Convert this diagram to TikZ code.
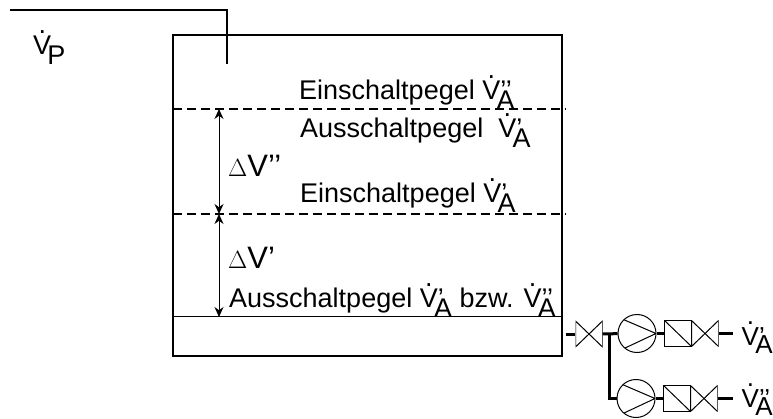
\documentclass[tikz,border=0pt]{standalone}
\usepackage{fontspec}
\setmainfont{Liberation Sans}
\usetikzlibrary{arrows.meta}
\newcommand{\Vdot}{\leavevmode\rlap{\kern.2em\raisebox{.78em}{.}}V}
\newcommand{\Vflow}[2]{\Vdot\rlap{\kern.0em\raisebox{.0em}{#2}}\kern-.14em\raisebox{-.34em}{#1}}

\begin{document}
\begin{tikzpicture}[
    x=1pt, y=-1pt,
    font=\fontsize{27}{29}\selectfont,
    >={Stealth[length=10pt,width=9pt]},
    % Styles
    tank/.style={% For the basin
        rectangle,
        draw,
        line width=2pt,
        minimum width=389pt,
        minimum height=321pt,
        inner sep=0pt,
        },
    valve/.style={% Two triangles tip to tip
        rectangle,
        minimum width=27pt,
        minimum height=26pt,
        inner sep=0pt,
        path picture={
            \draw[line width=1pt] (path picture bounding box.north west) -- (path picture bounding box.south east)
                -- (path picture bounding box.north east) -- (path picture bounding box.south west) -- cycle;
            },
        },
    pump/.style={% Circle with the wedge
        circle,
        draw,
        line width=1pt,
        minimum size=38pt,
        inner sep=0pt,
        path picture={
            \draw[line width=1pt] (path picture bounding box.center)++(-16,-15) -- (path picture bounding box.east)
                -- ++(-32,15);
            },
        },
    filterbox/.style={% Square with the diagonal
        rectangle,
        draw,
        line width=1pt,
        minimum width=27pt,
        minimum height=26pt,
        inner sep=0pt,
        path picture={
            \draw[line width=1pt] (path picture bounding box.north west) -- (path picture bounding box.south east);
            },
        },
    pipe/.style={line width=3pt},
    level/.style={line width=1.5pt, dash pattern=on 9pt off 5pt},
    measure/.style={<->, line width=1pt},
    mylabel/.style={anchor=base west, inner sep=0pt},
    sidelabel/.style={anchor=base west, inner sep=0pt, font=\fontsize{26}{28}\selectfont},
    biglabel/.style={anchor=base west, inner sep=0pt, font=\fontsize{31}{33}\selectfont},
    ]
    \useasboundingbox (0,0) rectangle (773,419);

    % Draw the basin
    \node[tank] (basin) at (367.5,195.5) {};

    % Levels, named as basis e,a
    \coordinate (e2) at (173,109);
    \coordinate (e2r) at (566,109);
    \coordinate (e1) at (173,214);
    \coordinate (e1r) at (566,214);
    \coordinate (a0) at (173,317);
    \coordinate (a0r) at (562,317);
    \draw[level] (e2) -- (e2r);
    \draw[level] (e1) -- (e1r);
    \draw[line width=1pt] (a0) -- (a0r);

    % Inlet
    \coordinate (in0) at (10,10);
    \coordinate (in1) at (227,10);
    \coordinate (in2) at (227,64);
    \draw[line width=2.5pt] (in0) -- (in1) -- (in2);

    % Draw the measures
    \coordinate (m2) at (219,109);
    \coordinate (m1) at (219,214);
    \coordinate (m0) at (219,317);
    \draw[measure] (m2) -- (m1);
    \draw[measure] (m1) -- (m0);

    % Labels
    \node[mylabel] (lp) at (33,55) {\Vflow{P}{}};
    \node[mylabel] (l1) at (299,100) {Einschaltpegel \Vflow{A}{'{}'}};
    \node[mylabel] (l2) at (300,138) {Ausschaltpegel \ \Vflow{A}{'}};
    \node[mylabel] (l3) at (300,203) {Einschaltpegel \Vflow{A}{'}};
    \node[mylabel] (l4) at (229,308) {Ausschaltpegel \Vflow{A}{'} bzw. \Vflow{A}{'{}'}};
    \node[biglabel] (d2) at (228,177) {$\Delta$V'{}'};
    \node[biglabel] (d1) at (228,269) {$\Delta$V'};
    \node[sidelabel] (q1) at (741.5,345) {\Vflow{A}{'}};
    \node[sidelabel] (q2) at (741.5,407) {\Vflow{A}{'{}'}};

    % Draw the first line
    \node[valve] (v1) at (589,334) {};
    \node[pump] (p1) at (637,333.5) {};
    \node[filterbox] (f1) at (678,333.5) {};
    \node[valve] (v2) at (705,333.5) {};
    \coordinate (o1) at (733,333.5);

    % Draw the second line
    \node[pump] (p2) at (636,398.5) {};
    \node[filterbox] (f2) at (677,398.5) {};
    \node[valve] (v3) at (704,398.5) {};
    \coordinate (o2) at (733,398.5);
    \coordinate (j1) at (609,334);

    % Start connecting all.
    \draw[pipe] ([xshift=3pt]basin.east |- v1) -- (v1);
    \draw[pipe] (v1) -- (p1);
    \draw[pipe] (p1) -- (f1);
    \draw[pipe] (v2) -- (o1);
    \draw[pipe] (j1) |- (p2);
    \draw[pipe] (p2) -- (f2);
    \draw[pipe] (v3) -- (o2);

\end{tikzpicture}
\end{document}
